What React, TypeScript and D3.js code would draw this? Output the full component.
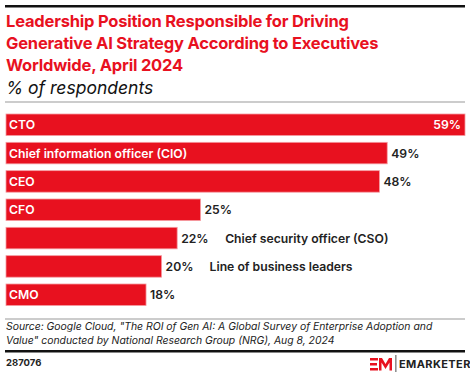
import React from "react";
import * as d3 from "d3";

const categories = ["CTO", "Chief information officer (CIO)", "CEO", "CFO", "Chief security officer (CSO)", "Line of business leaders", "CMO"];
const values = [59, 49, 48, 25, 22, 20, 18];
const labelInside = [true, true, true, true, false, false, true];
const titleLines = [
  "Leadership Position Responsible for Driving",
  "Generative AI Strategy According to Executives",
  "Worldwide, April 2024",
];
const subtitle = "% of respondents";
const sourceLines = [
  "Source: Google Cloud, \"The ROI of Gen AI: A Global Survey of Enterprise Adoption and",
  "Value\" conducted by National Research Group (NRG), Aug 8, 2024",
];
const chartId = "287076";

const RED = "#e8111f";
const FONT = "Inter, 'Noto Sans', sans-serif";

export default function App() {
  const W = 470, H = 376;
  const x = d3.scaleLinear().domain([0, 59]).range([6, 465]);
  const y = d3.scaleBand<number>().domain(d3.range(values.length)).range([114, 305.5]).paddingInner(0.241).paddingOuter(0);
  return (
    <svg width={W} height={H} style={{ position: "absolute", left: 0, top: 0, background: "#fff" }} fontFamily={FONT}>
      <rect x={0} y={0} width={W} height={H} fill="#fff" />
      <rect x={5} y={5} width={460} height={2.5} fill="#111" />
      {titleLines.map((t, i) => (
        <text key={i} x={6} y={27 + i * 22} fill={RED} fontSize={16.5} fontWeight={700} letterSpacing={-0.2}>{t}</text>
      ))}
      <text x={6} y={94} fontSize={17.5} fontStyle="italic" fill="#111">{subtitle}</text>
      <rect x={5} y={101.5} width={460} height={1} fill="#999" />
      {values.map((v, i) => {
        const y0 = y(i)!;
        const bh = y.bandwidth();
        const x1 = x(v);
        const full = v === 59;
        return (
          <g key={i}>
            <rect x={x(0)} y={y0} width={x1 - x(0)} height={bh} fill={RED} stroke="#f59aa0" strokeWidth={0.8} />
            {labelInside[i] && (
              <text x={9} y={y0 + bh / 2 + 4.5} fill="#fff" fontSize={12.2} fontWeight={600}>{categories[i]}</text>
            )}
            <text x={full ? x1 - 4 : x1 + 4} y={y0 + bh / 2 + 4.5} textAnchor={full ? "end" : "start"} fill={full ? "#fff" : "#222"} fontSize={12.2} fontWeight={600}>{v}%</text>
            {!labelInside[i] && (
              <text x={x1 + 48} y={y0 + bh / 2 + 4.5} fill="#222" fontSize={12.2} fontWeight={600}>{categories[i]}</text>
            )}
          </g>
        );
      })}
      <rect x={5} y={318.5} width={460} height={1} fill="#999" />
      {sourceLines.map((t, i) => (
        <text key={i} x={6} y={330 + i * 14} fontSize={10.4} fontStyle="italic" fill="#222">{t}</text>
      ))}
      <rect x={5} y={350} width={460} height={2.5} fill="#111" />
      <text x={6} y={366} fontSize={9.5} fontWeight={700} fill="#222">{chartId}</text>
      <g fill={RED}>
        <rect x={370} y={358} width={8} height={2.5} />
        <rect x={370} y={363} width={7} height={2.5} />
        <rect x={370} y={368} width={8} height={2.5} />
        <path d="M379,370.5 L379,358 L382,358 L385.5,364 L389,358 L392,358 L392,370.5 L389.5,370.5 L389.5,362.5 L385.5,369 L381.5,362.5 L381.5,370.5 Z" />
      </g>
      <rect x={395.5} y={355} width={0.8} height={17} fill="#222" />
      <text x={399} y={368} fontSize={11} fontWeight={700} fill="#222" letterSpacing={0.4}>EMARKETER</text>
    </svg>
  );
}
